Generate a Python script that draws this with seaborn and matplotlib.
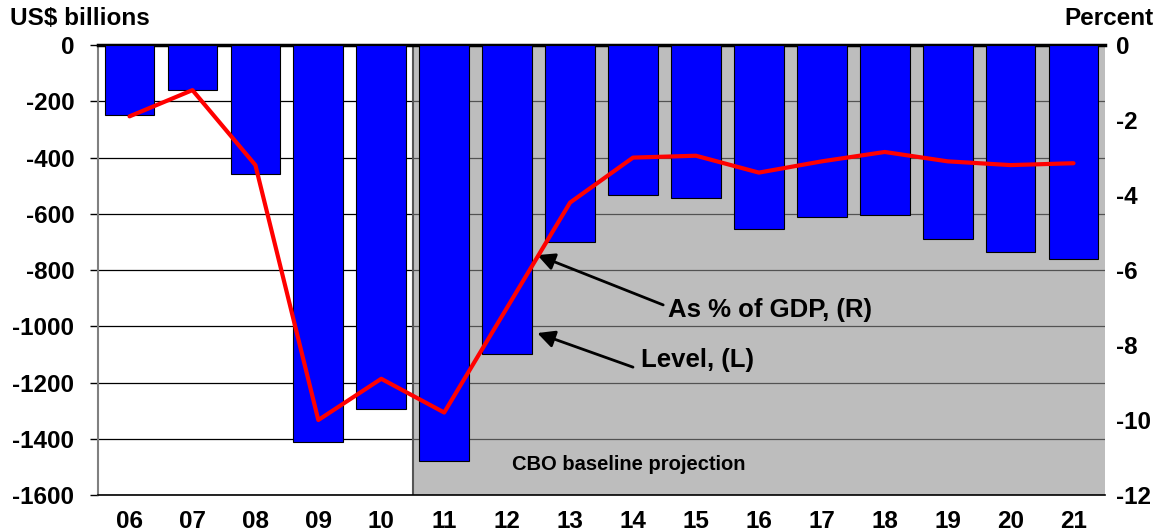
import numpy as np
import pandas as pd
import seaborn as sns
import matplotlib.pyplot as plt
from matplotlib.ticker import FixedLocator

# Data
years = ['06', '07', '08', '09', '10', '11', '12', '13', '14', '15', '16', '17', '18', '19', '20', '21']
level_bn = [-248, -160, -459, -1413, -1294, -1480, -1100, -700, -532, -544, -655, -612, -605, -690, -736, -760]
pct_gdp = [-1.9, -1.2, -3.2, -10.0, -8.9, -9.8, -7.0, -4.2, -3.0, -2.95, -3.4, -3.1, -2.85, -3.1, -3.2, -3.15]

df = pd.DataFrame({'Year': years, 'Level': level_bn, 'Pct': pct_gdp})

sns.set_style('white')
plt.rcParams['font.family'] = ['Liberation Sans', 'DejaVu Sans']
plt.rcParams['font.weight'] = 'bold'
plt.rcParams['axes.unicode_minus'] = False
plt.rcParams['text.color'] = 'black'
plt.rcParams['xtick.color'] = 'black'
plt.rcParams['ytick.color'] = 'black'
plt.rcParams['xtick.labelcolor'] = 'black'
plt.rcParams['ytick.labelcolor'] = 'black'

FS = 17.5      # titles
TFS = 17.5     # tick labels
AFS = 18.5     # annotations

fig = plt.figure(figsize=(11.59, 5.31), dpi=100)
ax = fig.add_axes([0.0846, 0.0678, 0.8688, 0.8472])

# Bars (left axis)
sns.barplot(data=df, x='Year', y='Level', color='#0000FF', saturation=1,
            width=0.79, edgecolor='black', linewidth=0.8, ax=ax, zorder=3)

ax.set_ylim(-1600, 0)
ax.set_xlim(-0.5, len(years) - 0.5)
ax.set_yticks(np.arange(-1600, 1, 200))
ax.yaxis.grid(True, color='black', linewidth=0.9, zorder=0.5)
ax.set_axisbelow(True)

# CBO projection shading
ax.axvspan(4.5, len(years) - 0.5, color='#8e8e8e', alpha=0.58, zorder=1, lw=0)
ax.axvline(4.5, color='#555555', linewidth=1.5, zorder=1.5)
ax.text(7.93, -1493, 'CBO baseline projection', ha='center', va='center',
        fontsize=14.5, fontweight='bold', zorder=5)

ax.set_xlabel('')
ax.set_ylabel('')
ax.tick_params(axis='y', length=6, width=1, color='black', labelsize=TFS, pad=11)
ax.tick_params(axis='x', which='major', length=0, labelsize=TFS, pad=11)
ax.xaxis.set_minor_locator(FixedLocator(np.arange(0.5, len(years) - 1, 1.0)))
ax.tick_params(axis='x', which='minor', length=7, width=1, color='black', direction='out')
for lab in ax.get_xticklabels() + ax.get_yticklabels():
    lab.set_fontweight('bold')

ax.spines['top'].set_color('black')
ax.spines['top'].set_linewidth(2.5)
ax.spines['bottom'].set_color('black')
ax.spines['bottom'].set_linewidth(1.2)
ax.spines['left'].set_color('#808080')
ax.spines['left'].set_linewidth(1.5)
ax.spines['right'].set_visible(False)

# Line (right axis)
ax2 = ax.twinx()
sns.lineplot(data=df, x='Year', y='Pct', color='#FF0000', linewidth=3, ax=ax2,
             sort=False, zorder=4)
ax2.set_ylim(-12, 0)
ax2.set_yticks(np.arange(-12, 1, 2))
ax2.set_ylabel('')
ax2.set_xlabel('')
ax2.tick_params(axis='y', length=0, labelsize=TFS, pad=8)
for lab in ax2.get_yticklabels():
    lab.set_fontweight('bold')
for s in ax2.spines.values():
    s.set_visible(False)

# Annotations
arrow = dict(arrowstyle='-|>', color='black', lw=2, mutation_scale=26,
             shrinkA=0, shrinkB=0)
ax2.annotate('', xy=(6.48, -5.6), xytext=(8.48, -6.93), arrowprops=arrow)
ax2.text(10.18, -7.07, 'As % of GDP, (R)', fontsize=AFS, fontweight='bold',
         ha='center', va='center')
ax2.annotate('', xy=(6.48, -7.68), xytext=(8.0, -8.59), arrowprops=arrow)
ax2.text(9.02, -8.4, 'Level, (L)', fontsize=AFS, fontweight='bold',
         ha='center', va='center')

fig.text(0.009, 0.965, 'US$ billions', fontsize=FS, fontweight='bold', ha='left', va='center')
fig.text(0.995, 0.965, 'Percent', fontsize=FS, fontweight='bold', ha='right', va='center')

fig.savefig('out.png', dpi=100)
